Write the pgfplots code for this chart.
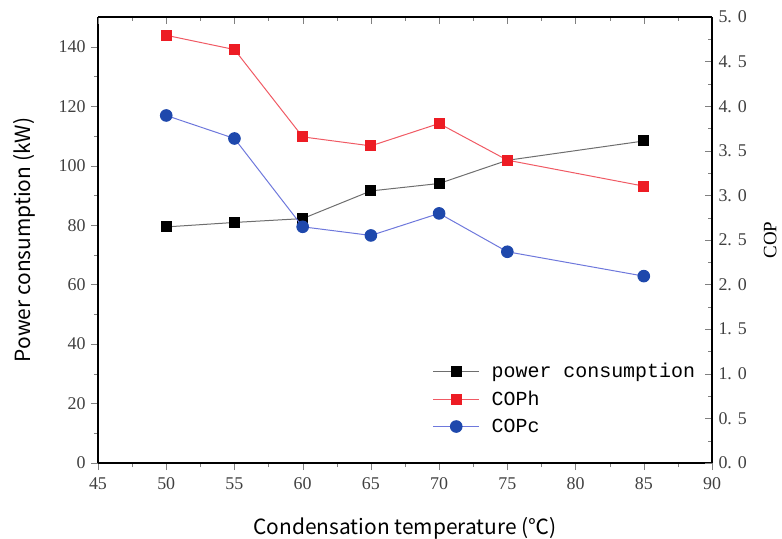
\documentclass[border=0pt]{standalone}
\usepackage{fontspec}
\setmainfont{Liberation Serif}
\newfontfamily\cjk{Noto Sans CJK SC}
\newfontfamily\mono{Liberation Mono}
\newfontfamily\tickserif{Liberation Serif}
\newcommand{\tickfont}{\tickserif\fontsize{18}{18}\selectfont}
\usepackage{pgfplots}
\pgfplotsset{compat=1.18}

\definecolor{cred}{RGB}{237,28,36}
\definecolor{credline}{RGB}{240,90,100}
\definecolor{cblue}{RGB}{30,72,172}
\definecolor{cblueline}{RGB}{110,120,220}
\definecolor{cgrayline}{RGB}{110,110,110}

\begin{document}
\begin{tikzpicture}
\begin{axis}[
  scale only axis, width=614bp, height=446bp,
  xmin=45, xmax=90, ymin=0, ymax=150,
  axis x line*=bottom, axis y line*=left,
  tick align=outside,
  axis line style={line width=1.5bp},
  major tick length=7bp, minor tick length=4bp,
  xtick={45,50,...,90}, minor x tick num=1,
  ytick={0,20,...,140}, minor y tick num=1,
  xticklabels={45,50,55,60,65,70,75,80,85,90},
  yticklabels={0,20,40,60,80,100,120,140},
  x tick label style={font=\tickfont, text=black!75, yshift=-4bp},
  y tick label style={font=\tickfont, text=black!75, xshift=-2bp},
  xlabel={\cjk Condensation temperature (℃)},
  ylabel={\cjk Power consumption (kW)},
  xlabel style={font=\cjk\fontsize{21}{21}\selectfont, yshift=-21bp},
  ylabel style={font=\cjk\fontsize{21}{21}\selectfont, yshift=16bp},
]
\coordinate (sw) at (rel axis cs:0,0);
\coordinate (ne) at (rel axis cs:1,1);
\addplot[cgrayline, line width=1bp, mark=square*, mark size=5bp,
  mark options={black, fill=black}]
  coordinates {(50,79.4) (55,80.9) (60,82.2) (65,91.5) (70,94.0) (75,101.8) (85,108.3)};
\end{axis}
\begin{axis}[
  scale only axis, width=614bp, height=446bp,
  xmin=45, xmax=90, ymin=0, ymax=5,
  axis x line*=top, axis y line*=right,
  tick align=inside,
  axis line style={line width=1.5bp},
  major tick length=7bp, minor tick length=4bp,
  xtick={45,50,...,90}, minor x tick num=1,
  xticklabels={},
  ytick={0,0.5,...,5}, minor y tick num=1,
  yticklabels={0. 0,0. 5,1. 0,1. 5,2. 0,2. 5,3. 0,3. 5,4. 0,4. 5,5. 0},
  y tick label style={font=\tickfont, text=black!75, xshift=3bp},
  ylabel={COP},
  ylabel style={font=\tickserif\fontsize{19}{19}\selectfont, yshift=-10bp},
  legend cell align=left,
  legend style={draw=none, fill=none, at={(0.54,0.233)}, anchor=north west,
    font=\mono\fontsize{20}{20}\selectfont, row sep=8bp,
    /tikz/every odd column/.append style={column sep=10bp}},
  legend image code/.code={%
    \draw[mark repeat=2, mark phase=2, #1]
      plot coordinates {(0bp,0bp) (23bp,0bp) (46bp,0bp)};},
]
\addlegendimage{cgrayline, line width=1bp, mark=square*, mark size=5bp,
  mark options={black, fill=black}}
\addlegendentry{power consumption}
\addplot[credline, line width=1bp, mark=square*, mark size=5bp,
  mark options={cred, fill=cred}]
  coordinates {(50,4.795) (55,4.635) (60,3.656) (65,3.555) (70,3.806) (75,3.395) (85,3.104)};
\addlegendentry{COPh}
\addplot[cblueline, line width=1bp, mark=*, mark size=5.8bp,
  mark options={cblue, fill=cblue}]
  coordinates {(50,3.896) (55,3.638) (60,2.648) (65,2.551) (70,2.798) (75,2.368) (85,2.095)};
\addlegendentry{COPc}
\end{axis}
\pgfresetboundingbox
\path ([shift={(-98bp,-76bp)}]sw) rectangle ([shift={(70bp,17bp)}]ne);
\end{tikzpicture}
\end{document}
